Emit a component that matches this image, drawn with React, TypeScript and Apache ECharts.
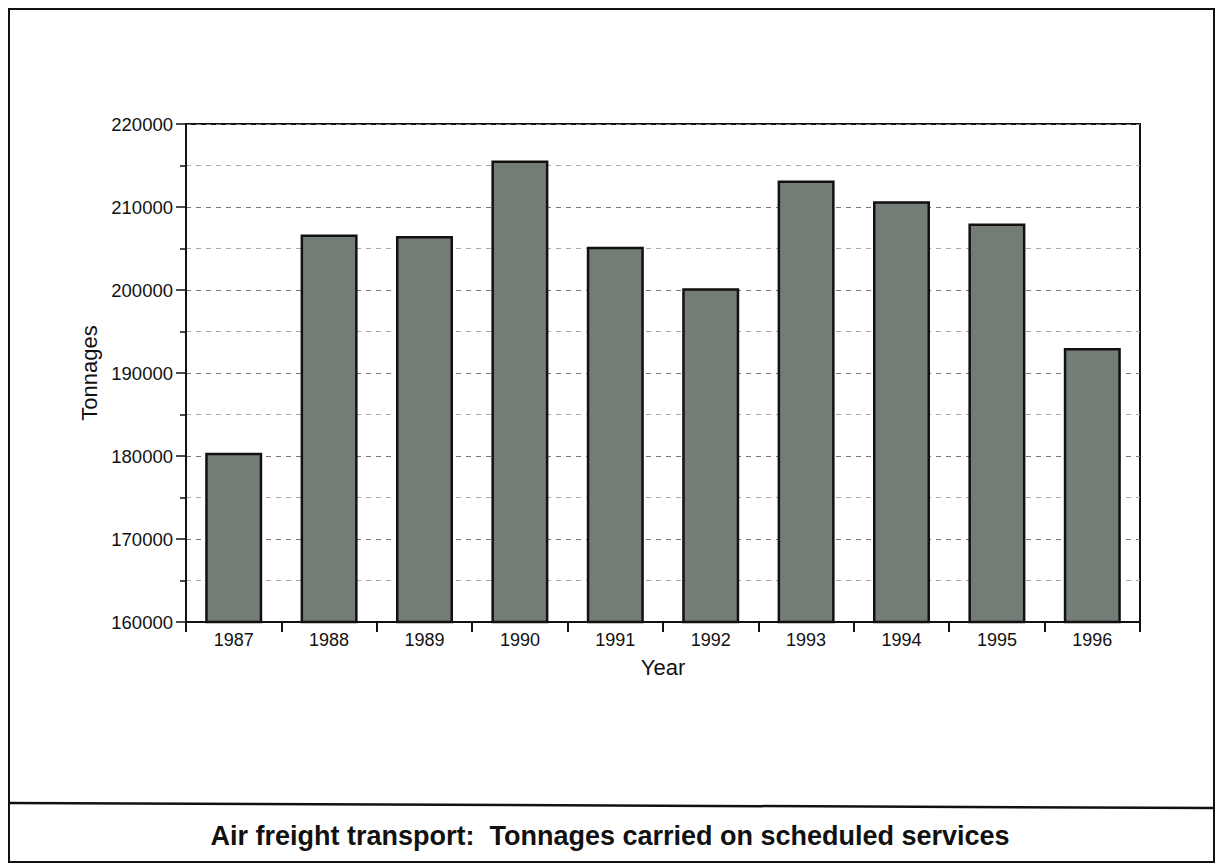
import React, { useEffect, useRef } from "react";
import * as echarts from "echarts";

const years = ["1987", "1988", "1989", "1990", "1991", "1992", "1993", "1994", "1995", "1996"];
const tonnages = [180400, 206700, 206500, 215600, 205200, 200200, 213200, 210700, 208000, 193000];
const yMin = 160000;
const yMax = 220000;
const yInterval = 10000;
const chartTitle = "Air freight transport:  Tonnages carried on scheduled services";
const yName = "Tonnages";
const xName = "Year";

const FONT = "'Liberation Sans', Arial, Helvetica, sans-serif";

export default function App() {
  const ref = useRef<HTMLDivElement>(null);
  useEffect(() => {
    if (!ref.current) return;
    const chart = echarts.init(ref.current, undefined, { renderer: "svg" });
    chart.setOption({
      animation: false,
      backgroundColor: "#ffffff",
      grid: {
        left: 186,
        right: 80,
        top: 124,
        bottom: 245,
        show: true,
        borderColor: "#111",
        borderWidth: 2,
        backgroundColor: "transparent",
      },
      xAxis: {
        type: "category",
        data: years,
        boundaryGap: true,
        name: xName,
        nameLocation: "middle",
        nameGap: 34,
        nameTextStyle: { fontFamily: FONT, fontSize: 22, color: "#111" },
        axisLine: { lineStyle: { color: "#111", width: 2 } },
        axisTick: { show: true, alignWithLabel: false, length: 10, lineStyle: { color: "#111", width: 2 } },
        axisLabel: { fontFamily: FONT, fontSize: 18, color: "#111", margin: 9 },
        splitLine: { show: false },
      },
      yAxis: {
        type: "value",
        min: yMin,
        max: yMax,
        interval: yInterval,
        name: yName,
        nameLocation: "middle",
        nameGap: 78,
        nameRotate: 90,
        nameTextStyle: { fontFamily: FONT, fontSize: 22, color: "#111" },
        axisLine: { show: true, lineStyle: { color: "#111", width: 2 } },
        axisTick: { show: true, length: 10, lineStyle: { color: "#111", width: 1.5 } },
        minorTick: { show: true, splitNumber: 2, length: 6, lineStyle: { color: "#111", width: 1.5 } },
        axisLabel: {
          fontFamily: FONT,
          fontSize: 18.5,
          color: "#111",
          margin: 13,
          formatter: (v: number) => String(v),
        },
        splitLine: { show: true, lineStyle: { color: "#777", type: [5, 5], width: 1 } },
        minorSplitLine: { show: true, lineStyle: { color: "#aaa", type: [5, 5], width: 1 } },
      },
      series: [
        {
          type: "bar",
          data: tonnages,
          barWidth: 57,
          itemStyle: { color: "#737d76", borderColor: "#111", borderWidth: 2.5 },
        },
      ],
      graphic: [
        {
          type: "rect",
          shape: { x: 9, y: 9, width: 1205, height: 853 },
          style: { fill: "none", stroke: "#111", lineWidth: 2 },
        },
        {
          type: "line",
          shape: { x1: 9, y1: 803, x2: 1214, y2: 808 },
          style: { stroke: "#111", lineWidth: 2.5 },
        },
        {
          type: "text",
          x: 610,
          y: 836,
          style: {
            text: chartTitle,
            fontFamily: FONT,
            fontSize: 27,
            fontWeight: "bold",
            fill: "#111",
            textAlign: "center",
            textVerticalAlign: "middle",
          },
        },
      ],
    });
    return () => chart.dispose();
  }, []);
  return (
    <div
      ref={ref}
      style={{ position: "absolute", left: 0, top: 0, width: 1220, height: 867 }}
    />
  );
}
